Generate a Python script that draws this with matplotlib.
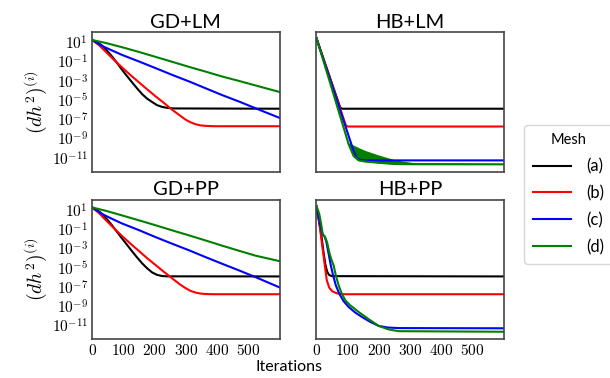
import numpy as np
import matplotlib
matplotlib.use("Agg")
import matplotlib.pyplot as plt
from matplotlib.ticker import FuncFormatter

plt.rcParams['font.family'] = ['Lato', 'DejaVu Sans']
plt.rcParams['mathtext.fontset'] = 'cm'

'''DATEN'''
# log10 of (dh^2)^(i) over the iterations, one series per mesh
mesh_labels = ['(a)', '(b)', '(c)', '(d)']
mesh_colors = ['black', 'red', 'blue', 'green']
titles = ['GD+LM', 'HB+LM', 'GD+PP', 'HB+PP']

# GD+LM
gdlm_a_it = [0, 16, 32, 48, 64, 80, 96, 112, 128, 144, 160, 176, 192, 208, 224, 240, 260, 600]
gdlm_a = [1.23, 1.01, 0.65, 0.11, -0.49, -1.16, -1.87, -2.53, -3.17, -3.80, -4.39, -4.86,
          -5.21, -5.54, -5.72, -5.82, -5.88, -5.91]
gdlm_b_it = [0, 22, 43, 70, 96, 122, 149, 176, 203, 230, 256, 280, 299, 315, 331, 347, 363, 390, 600]
gdlm_b = [1.23, 0.70, 0.03, -0.83, -1.62, -2.39, -3.14, -3.89, -4.62, -5.31, -6.01, -6.59,
          -7.04, -7.32, -7.52, -7.64, -7.69, -7.73, -7.73]
gdlm_c_it = [0, 32, 64, 96, 150, 203, 256, 310, 363, 416, 470, 523, 600]
gdlm_c = [1.23, 0.61, 0.14, -0.32, -1.0, -1.69, -2.39, -3.07, -3.78, -4.49, -5.16, -5.86, -6.86]
gdlm_d_it = [0, 43, 96, 150, 203, 256, 310, 363, 416, 470, 523, 600]
gdlm_d = [1.23, 0.93, 0.48, -0.01, -0.52, -1.03, -1.56, -2.05, -2.56, -3.02, -3.49, -4.17]

# GD+PP
gdpp_a_it = [0, 16, 32, 48, 64, 80, 96, 112, 128, 144, 160, 176, 192, 208, 224, 240, 600]
gdpp_a = [1.23, 0.98, 0.55, -0.01, -0.64, -1.32, -2.0, -2.66, -3.33, -3.97, -4.57, -5.09,
          -5.52, -5.78, -5.90, -5.93, -5.94]
gdpp_b_it = [0, 22, 43, 70, 96, 122, 149, 176, 203, 230, 256, 280, 299, 315, 331, 347, 363, 390, 600]
gdpp_b = [1.23, 0.65, -0.06, -0.93, -1.74, -2.51, -3.27, -4.04, -4.75, -5.47, -6.13, -6.74,
          -7.15, -7.44, -7.62, -7.72, -7.77, -7.79, -7.79]
gdpp_c_it = [0, 32, 64, 96, 150, 203, 256, 310, 363, 416, 470, 523, 600]
gdpp_c = [1.23, 0.55, 0.04, -0.44, -1.13, -1.85, -2.54, -3.22, -3.93, -4.62, -5.31, -6.01, -7.08]
gdpp_d_it = [0, 43, 96, 150, 203, 256, 310, 363, 416, 470, 523, 600]
gdpp_d = [1.23, 0.89, 0.40, -0.11, -0.62, -1.15, -1.67, -2.20, -2.74, -3.27, -3.78, -4.35]

# HB+LM
hblm_a_it = [0, 76, 82, 600]
hblm_a = [1.41, -5.78, -5.91, -5.91]
hblm_b_it = [0, 94, 100, 600]
hblm_b = [1.41, -7.63, -7.76, -7.76]
hblm_c_it = [0, 119, 129, 140, 155, 600]
hblm_c = [1.41, -10.31, -11.03, -11.23, -11.28, -11.28]
# (d) oscillates, kept as upper and lower envelope
hblm_d_it = [0, 103, 119, 135, 156, 199, 252, 306, 600]
hblm_d_hi = [1.47, -9.46, -9.70, -9.95, -10.25, -10.72, -11.23, -11.49, -11.59]
hblm_d_lo = [1.47, -9.60, -10.83, -11.28, -11.40, -11.53, -11.66, -11.68, -11.69]

# HB+PP
hbpp_a_it = [0, 6, 12, 17, 22, 28, 34, 40, 49, 600]
hbpp_a = [1.32, 0.19, -0.93, -1.95, -3.27, -4.60, -5.42, -5.77, -5.91, -5.94]
hbpp_b_it = [0, 9, 17, 26, 33, 41, 51, 65, 81, 600]
hbpp_b = [1.32, -0.32, -2.39, -4.62, -6.33, -7.11, -7.49, -7.69, -7.79, -7.79]
hbpp_c_it = [0, 6, 15, 20, 26, 32, 39, 45, 52, 62, 73, 87, 103, 124, 145, 172, 199, 228, 265, 600]
hbpp_c = [1.34, 0.38, -1.0, -1.62, -1.76, -2.39, -3.59, -4.62, -5.66, -6.86, -7.73, -8.52,
          -9.11, -9.69, -10.14, -10.66, -11.08, -11.25, -11.31, -11.33]
hbpp_d_it = [0, 9, 15, 20, 28, 34, 41, 47, 55, 62, 71, 79, 92, 108, 135, 167, 199, 231, 263, 600]
hbpp_d = [1.41, 0.55, -0.49, -1.52, -1.87, -2.39, -3.42, -4.11, -4.79, -5.83, -6.86, -7.56,
          -8.41, -8.94, -9.63, -10.38, -11.08, -11.45, -11.63, -11.69]
'''DATEN'''

curves = {
    'GD+LM': [(gdlm_a_it, gdlm_a), (gdlm_b_it, gdlm_b), (gdlm_c_it, gdlm_c), (gdlm_d_it, gdlm_d)],
    'GD+PP': [(gdpp_a_it, gdpp_a), (gdpp_b_it, gdpp_b), (gdpp_c_it, gdpp_c), (gdpp_d_it, gdpp_d)],
    'HB+LM': [(hblm_a_it, hblm_a), (hblm_b_it, hblm_b), (hblm_c_it, hblm_c), (hblm_d_it, hblm_d_lo)],
    'HB+PP': [(hbpp_a_it, hbpp_a), (hbpp_b_it, hbpp_b), (hbpp_c_it, hbpp_c), (hbpp_d_it, hbpp_d)],
}

fig, axs = plt.subplots(2, 2, figsize=(6.1, 3.78), dpi=100, sharex=True, sharey=True)
fig.subplots_adjust(left=0.151, right=0.826, top=0.915, bottom=0.103, wspace=0.197, hspace=0.2)

for ax, title in zip(axs.flat, titles):
    for (it, val), col, lab in zip(curves[title], mesh_colors, mesh_labels):
        ax.plot(it, 10.0 ** np.array(val), color=col, lw=1.5, label=lab)
    if title == 'HB+LM':
        ax.fill_between(hblm_d_it, 10.0 ** np.array(hblm_d_lo), 10.0 ** np.array(hblm_d_hi),
                        color='green', lw=0)
    ax.set_title(title, fontsize=14.5, pad=3)
    ax.set_yscale('log')
    ax.set_xlim(0, 600)
    ax.set_ylim(10 ** -12.45, 10 ** 2.05)
    for s in ax.spines.values():
        s.set_color('#444444')
        s.set_linewidth(1.2)
    ax.tick_params(length=0, labelsize=11, pad=3)

axs[0, 0].set_yticks([10.0 ** e for e in range(1, -12, -2)])
axs[0, 0].yaxis.set_minor_locator(matplotlib.ticker.NullLocator())
axs[0, 0].yaxis.set_major_formatter(FuncFormatter(lambda v, p: r'$10^{%d}$' % round(np.log10(v))))
axs[0, 0].set_xticks([0, 100, 200, 300, 400, 500])
axs[0, 0].xaxis.set_major_formatter(FuncFormatter(lambda v, p: r'$%d$' % v))

for ax in axs[:, 0]:
    ax.set_ylabel(r'$(dh^2)^{(i)}$', fontsize=14, labelpad=2)

fig.text(0.474, 0.01, 'Iterations', ha='center', va='bottom', fontsize=11.5)

handles, labels = axs[0, 0].get_legend_handles_labels()
leg = fig.legend(handles, labels, title='Mesh', loc='center left',
                 bbox_to_anchor=(0.846, 0.486), fontsize=12, title_fontsize=10.5,
                 handlelength=2.3, handletextpad=0.9, labelspacing=0.65,
                 borderpad=0.5, frameon=True, fancybox=True)
leg.get_frame().set_edgecolor('#cccccc')

plt.savefig('out.png', dpi=100)
